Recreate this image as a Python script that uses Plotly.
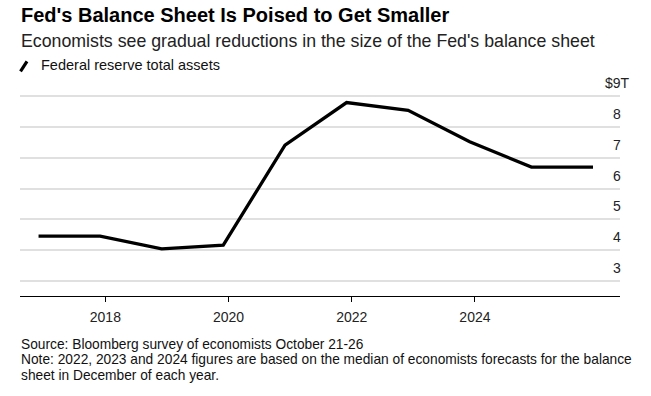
import plotly.graph_objects as go

# ---- data ----
dates = ["2016-12-01", "2017-12-01", "2018-12-01", "2019-12-01", "2020-12-01",
         "2021-12-01", "2022-12-01", "2023-12-01", "2024-12-01", "2025-12-01"]
total_assets = [4.46, 4.46, 4.05, 4.17, 7.41, 8.79, 8.54, 7.52, 6.70, 6.70]

x_tick_vals = ["2018-01-01", "2020-01-01", "2022-01-01", "2024-01-01"]
x_tick_text = ["2018", "2020", "2022", "2024"]
y_tick_vals = [3, 4, 5, 6, 7, 8, 9]
y_tick_text = ["3", "4", "5", "6", "7", "8", "$9T"]

title = "Fed's Balance Sheet Is Poised to Get Smaller"
subtitle = "Economists see gradual reductions in the size of the Fed's balance sheet"
legend_label = "Federal reserve total assets"
footer_lines = [
    "Source: Bloomberg survey of economists October 21-26",
    "Note: 2022, 2023 and 2024 figures are based on the median of economists forecasts for the balance",
    "sheet in December of each year.",
]

# ---- layout geometry (pixels) ----
W, H = 651, 396
L, R = 20, 620
TOP, BOT = 92.6, 295.7
FONT = "Liberation Sans, Arial, sans-serif"


def px(p):
    return (p - L) / (R - L)


def py(p):
    return (BOT - p) / (BOT - TOP)


fig = go.Figure()
fig.add_trace(go.Scatter(
    x=dates, y=total_assets, mode="lines",
    line=dict(color="#000000", width=3.3),
    name=legend_label, showlegend=False, hoverinfo="x+y",
))

annotations = []
# title/subtitle/legend
annotations.append(dict(text="<b>" + title + "</b>", x=px(19), y=py(14.5), xref="paper", yref="paper",
                        xanchor="left", yanchor="middle", showarrow=False,
                        font=dict(family=FONT, size=20, color="#000000")))
annotations.append(dict(text=subtitle, x=px(19), y=py(40.5), xref="paper", yref="paper",
                        xanchor="left", yanchor="middle", showarrow=False,
                        font=dict(family=FONT, size=17.75, color="#222222")))
annotations.append(dict(text=legend_label, x=px(38.5), y=py(65), xref="paper", yref="paper",
                        xanchor="left", yanchor="middle", showarrow=False,
                        font=dict(family=FONT, size=14.5, color="#111111")))
# footer
for i, line in enumerate(footer_lines):
    annotations.append(dict(text=line, x=px(19), y=py(344 + 15.5 * i), xref="paper", yref="paper",
                            xanchor="left", yanchor="middle", showarrow=False,
                            font=dict(family=FONT, size=13.75, color="#111111")))
# y tick labels (above gridlines)
for v, t in zip(y_tick_vals, y_tick_text):
    annotations.append(dict(text=t, x=px(617), y=v, xref="paper", yref="y",
                            xanchor="center", yanchor="middle", yshift=13, showarrow=False,
                            font=dict(family=FONT, size=14, color="#222222")))

shapes = [
    # legend icon (slanted stroke)
    dict(type="line", xref="paper", yref="paper", x0=px(20.5), y0=py(71), x1=px(27), y1=py(61),
         line=dict(color="#000000", width=3.2)),
]

fig.update_layout(
    width=W, height=H,
    margin=dict(l=L, r=W - R, t=TOP, b=H - BOT),
    paper_bgcolor="#ffffff", plot_bgcolor="#ffffff",
    showlegend=False,
    annotations=annotations,
    shapes=shapes,
    font=dict(family=FONT, size=14, color="#222222"),
    xaxis=dict(
        type="date",
        range=["2016-08-13", "2026-05-10"],
        tickvals=x_tick_vals, ticktext=x_tick_text,
        showgrid=False, zeroline=False,
        showline=True, linecolor="#000000", linewidth=1,
        ticks="outside", ticklen=5, tickwidth=1, tickcolor="#000000",
        ticklabelstandoff=3,
        tickfont=dict(family=FONT, size=14, color="#222222"),
    ),
    yaxis=dict(
        range=[2.52, 9.10],
        tickvals=y_tick_vals, showticklabels=False,
        showgrid=True, gridcolor="#e0e0e0", gridwidth=1.6,
        zeroline=False, showline=False, ticks="",
    ),
)

fig.write_html(
    "out.html",
    config={"displayModeBar": False},
    post_script="document.body.style.margin='0';document.body.style.overflow='hidden';",
)
